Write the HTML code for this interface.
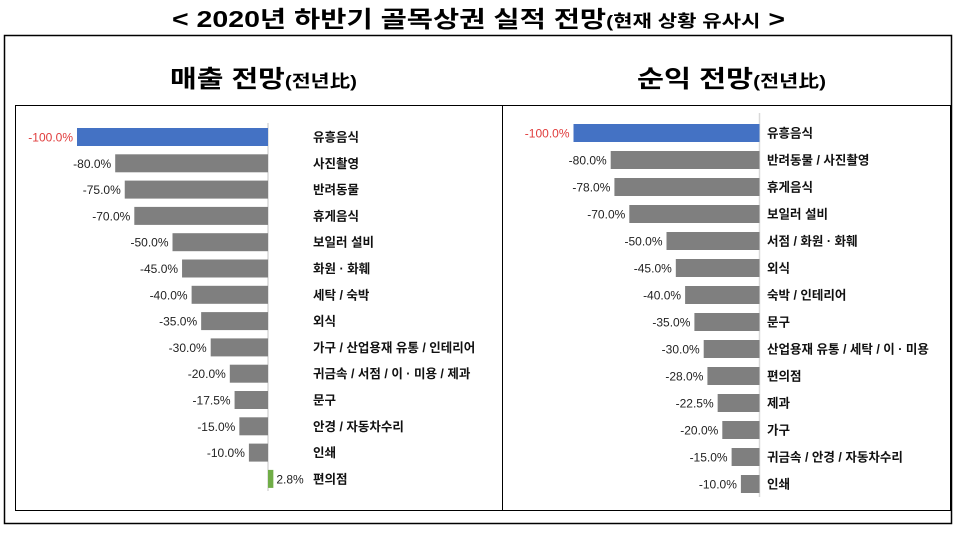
<!DOCTYPE html>
<html><head><meta charset="utf-8">
<style>
html,body{margin:0;padding:0;background:#fff;}
body{width:958px;height:531px;overflow:hidden;font-family:"Liberation Sans","Noto Sans CJK KR",sans-serif;}
</style></head>
<body>
<svg id="c" width="958" height="531" xmlns="http://www.w3.org/2000/svg">
  <text x="172" y="27" textLength="613" lengthAdjust="spacingAndGlyphs" font-size="23" font-weight="bold" fill="#000">&lt; 2020년 하반기 골목상권 실적 전망<tspan font-size="17">(현재 상황 유사시</tspan> &gt;</text>
  <rect x="4.5" y="35.5" width="947" height="488" fill="none" stroke="#000" stroke-width="1.5"/>
  <text x="170" y="87" textLength="187" lengthAdjust="spacingAndGlyphs" font-size="24" font-weight="bold">매출 전망<tspan font-size="17">(전년比)</tspan></text>
  <text x="637" y="87" textLength="189" lengthAdjust="spacingAndGlyphs" font-size="24" font-weight="bold">순익 전망<tspan font-size="17">(전년比)</tspan></text>
  <rect x="15.5" y="105.5" width="487" height="405" fill="none" stroke="#000" stroke-width="1"/>
  <rect x="502.5" y="105.5" width="448" height="405" fill="none" stroke="#000" stroke-width="1"/>
  <g id="g1"></g>
  <g id="g2"></g>
</svg>
<script>
const salesCategories=["유흥음식","사진촬영","반려동물","휴게음식","보일러 설비","화원 · 화훼","세탁 / 숙박","외식","가구 / 산업용재 유통 / 인테리어","귀금속 / 서점 / 이 · 미용 / 제과","문구","안경 / 자동차수리","인쇄","편의점"];
const salesValues=[-100,-80,-75,-70,-50,-45,-40,-35,-30,-20,-17.5,-15,-10,2.8];
const salesLabels=["-100.0%","-80.0%","-75.0%","-70.0%","-50.0%","-45.0%","-40.0%","-35.0%","-30.0%","-20.0%","-17.5%","-15.0%","-10.0%","2.8%"];
const profitCategories=["유흥음식","반려동물 / 사진촬영","휴게음식","보일러 설비","서점 / 화원 · 화훼","외식","숙박 / 인테리어","문구","산업용재 유통 / 세탁 / 이 · 미용","편의점","제과","가구","귀금속 / 안경 / 자동차수리","인쇄"];
const profitValues=[-100,-80,-78,-70,-50,-45,-40,-35,-30,-28,-22.5,-20,-15,-10];
const profitLabels=["-100.0%","-80.0%","-78.0%","-70.0%","-50.0%","-45.0%","-40.0%","-35.0%","-30.0%","-28.0%","-22.5%","-20.0%","-15.0%","-10.0%"];

const NS="http://www.w3.org/2000/svg";
function mk(tag,attrs,parent){const e=document.createElementNS(NS,tag);for(const k in attrs)e.setAttribute(k,attrs[k]);parent.appendChild(e);return e;}
function draw(gid,cats,vals,labs,zeroX,pxPer,y0,step,labelX,axisTop,axisBot,prefix){
  const g=document.getElementById(gid);
  const xs=v=>zeroX+v*pxPer;
  const ys=i=>y0+i*step;
  const ax=mk('line',{x1:zeroX,x2:zeroX,y1:axisTop,y2:axisBot,stroke:'#d9d9d9','stroke-width':1.5},g);
  
  
  const bh=18;
  vals.forEach((v,i)=>{
    const x1=Math.min(xs(v),zeroX),x2=Math.max(xs(v),zeroX);
    const col=i===0?'#4472C4':(v>0?'#70AD47':'#7F7F7F');
    const r=mk('rect',{x:x1,y:ys(i)-bh/2,width:Math.max(x2-x1,1),height:bh,fill:col},g);
    
    
    const vt=mk('text',{x:v<0?x1-4:x2+3,y:ys(i)+4.5,'font-size':12,'text-anchor':v<0?'end':'start',fill:i===0?'#e03c3c':'#222'},g);
    vt.textContent=labs[i];
    
    
    const ct=mk('text',{x:labelX,y:ys(i)+4.5,'font-size':12.5,'font-weight':'bold',fill:'#111'},g);
    ct.textContent=cats[i];
    
    
  });
}
draw('g1',salesCategories,salesValues,salesLabels,268,1.91,137,26.3,313,123,491,'sales');
draw('g2',profitCategories,profitValues,profitLabels,759.5,1.86,133,27,767,113,497,'profit');
</script>
</body></html>
